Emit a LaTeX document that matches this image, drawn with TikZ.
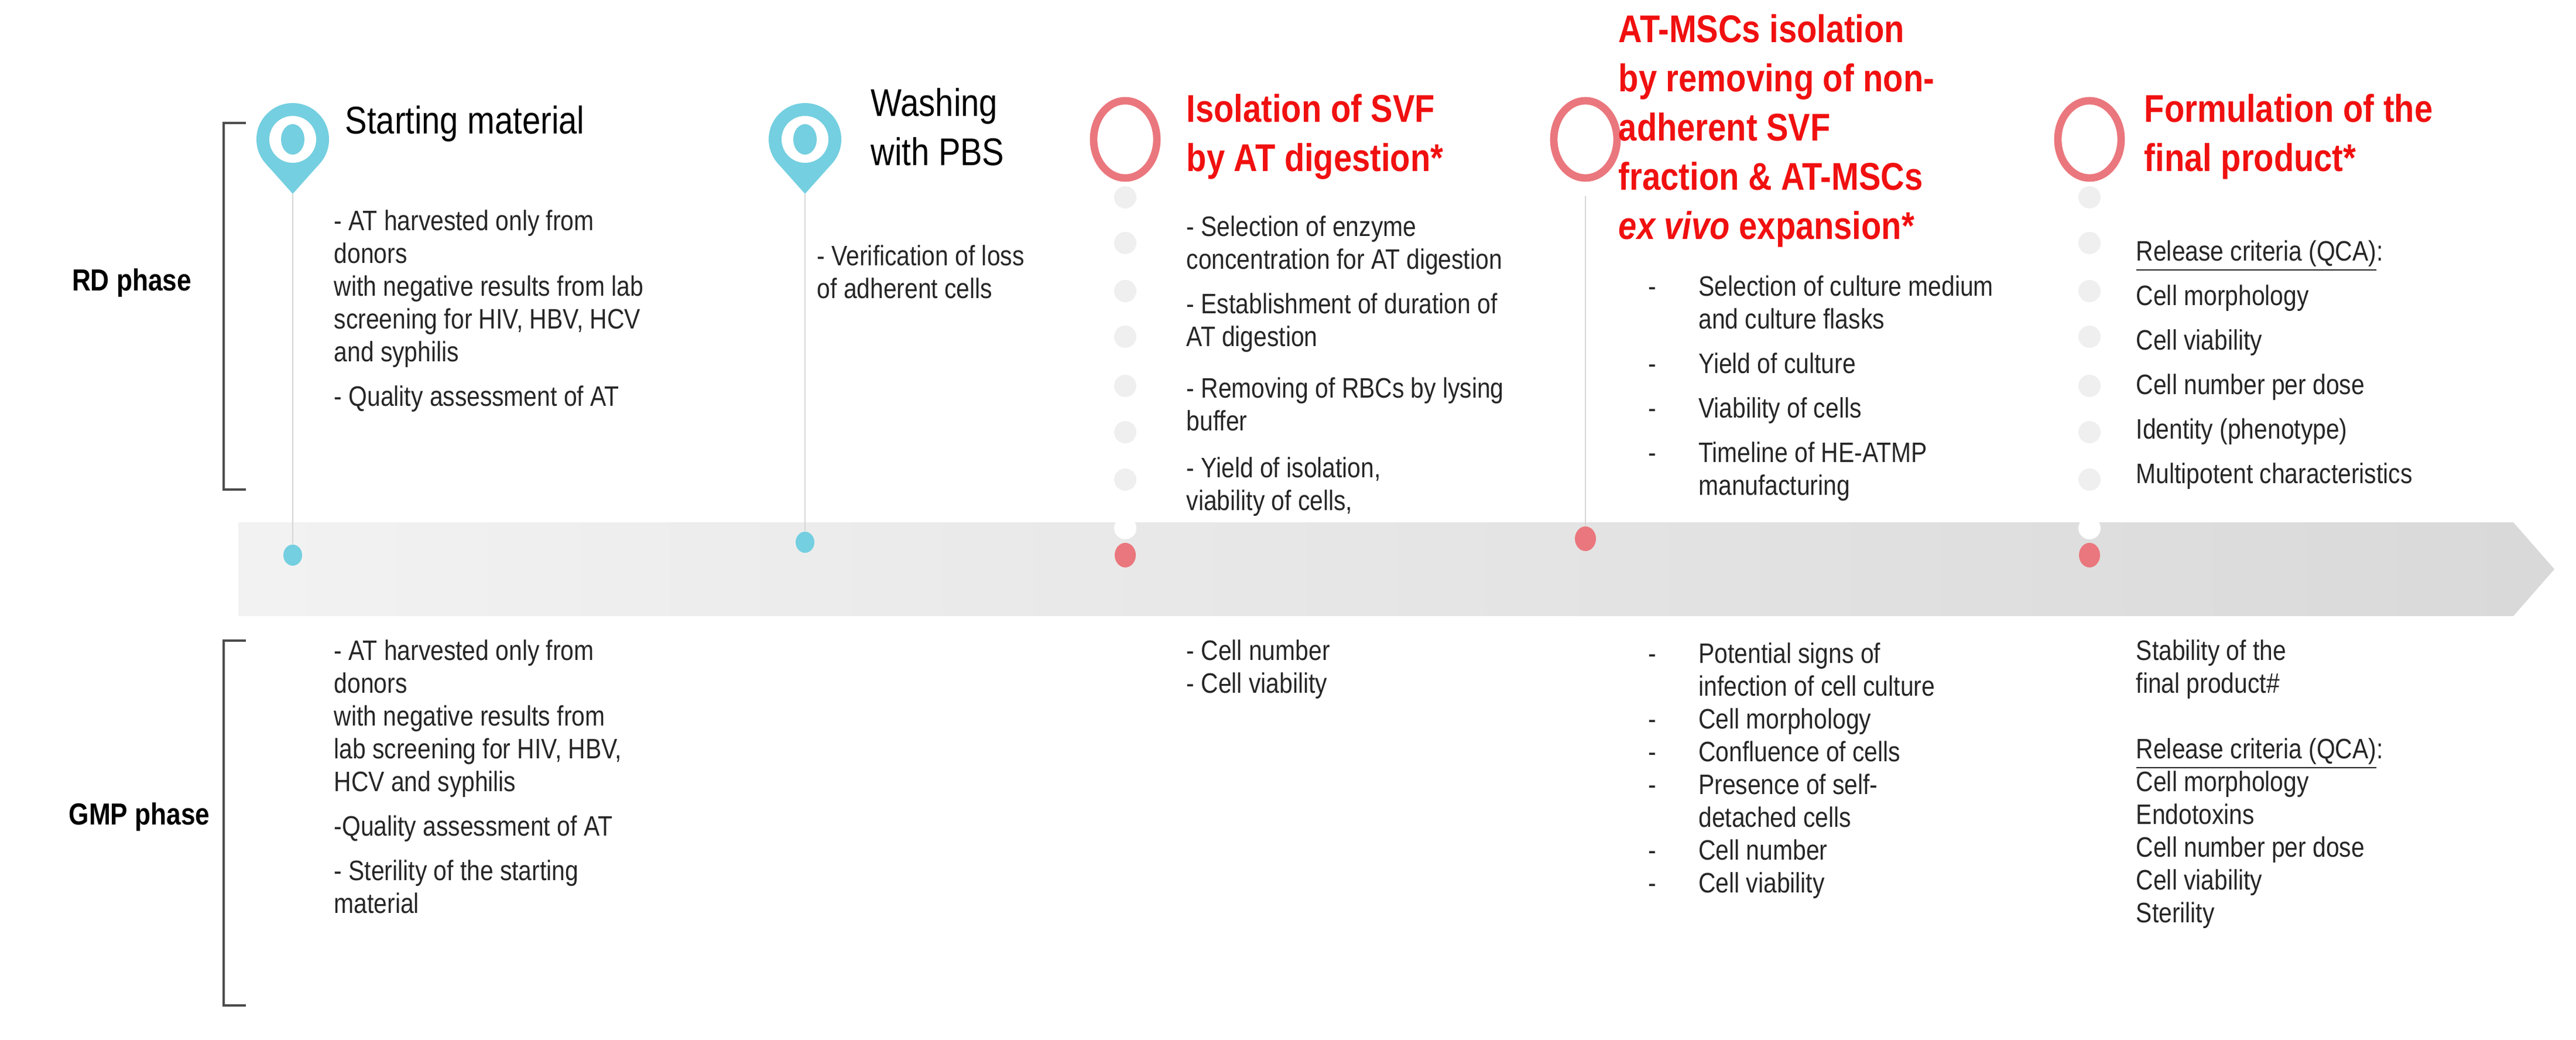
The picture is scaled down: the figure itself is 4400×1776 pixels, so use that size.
\documentclass[tikz,border=0pt]{standalone}
\usepackage{fontspec}
\setmainfont{Liberation Sans}[FakeStretch=0.85]
\usetikzlibrary{calc,shapes.geometric}
\definecolor{pincyan}{HTML}{74CFE0}
\definecolor{ringred}{HTML}{EA777D}
\definecolor{titlered}{HTML}{F01010}
\definecolor{dotgrey}{HTML}{EFEFEF}
\definecolor{linegrey}{HTML}{D6D6D6}
\tikzset{
  x=0.25pt,y=-0.25pt,
  body/.style={anchor=north west,inner sep=0pt,align=left,font=\fontsize{12}{14}\selectfont,text=black!85},
  ttl/.style={anchor=north west,inner sep=0pt,align=left,font=\fontsize{16.5}{21}\selectfont,text=black},
  rttl/.style={anchor=north west,inner sep=0pt,align=left,font=\fontsize{16.5}{21}\selectfont\bfseries,text=titlered},
  phase/.style={inner sep=0pt,font=\fontsize{13}{15}\selectfont\bfseries},
  stem/.style={draw=linegrey,line width=0.6pt},
  bracket/.style={draw=black!70,line width=0.9pt},
  gdot/.style={fill=dotgrey},
  cdot/.style={ellipse,fill=pincyan,inner sep=0pt,minimum width=8pt,minimum height=9pt},
  rdot/.style={ellipse,fill=ringred,inner sep=0pt,minimum width=9pt,minimum height=10.5pt},
}
\newcommand{\mypin}[2]{% x, name
  \fill[pincyan] (#1,331) -- (#1+46,279.5) -- (#1-46,279.5) -- cycle;
  \fill[pincyan] (#1,238) circle[radius=62];
  \fill[white] (#1,238) circle[radius=40];
  \fill[pincyan] (#1,238) ellipse[x radius=20,y radius=26];
  \coordinate (#2) at (#1,331);
}
\newcommand{\myring}[2]{%
  \draw[ringred,line width=3.2pt] (#1,238) ellipse[x radius=54,y radius=66];
  \coordinate (#2) at (#1,310);
}
\begin{document}
\begin{tikzpicture}
\useasboundingbox (0,0) rectangle (4400,1776);
% band
\shade[left color=black!5,right color=black!15] (407,892) -- (4293,892) -- (4363,972) -- (4293,1052) -- (407,1052) -- cycle;
% brackets
\draw[bracket] (420,210) -- (382,210) -- (382,836) -- (420,836);
\draw[bracket] (420,1094) -- (382,1094) -- (382,1717) -- (420,1717);
\node[phase] (rd) at (225,483) {RD phase};
\node[phase] (gmp) at (238,1395) {GMP phase};
% markers
\mypin{500}{p1}
\mypin{1375}{p2}
\myring{1922}{p3}
\myring{2708}{p4}
\myring{3569}{p5}
% grey dot columns
\foreach \yy in {337,415,497,575,659,738,819} {
  \fill[gdot] (1922,\yy) circle[radius=19];
  \fill[gdot] (3569,\yy) circle[radius=19];
}
\fill[white] (1922,902) circle[radius=19];
\fill[white] (3569,902) circle[radius=19];
% timeline dots
\node[cdot] (d1) at (500,948) {};
\node[cdot] (d2) at (1375,926) {};
\node[rdot] (d3) at (1922,948) {};
\node[rdot] (d4) at (2708,920) {};
\node[rdot] (d5) at (3569,948) {};
\draw[stem] (p1) -- (d1.north);
\draw[stem] (p2) -- (d2.north);
\draw[stem] (2708,335) -- (d4.north);
% titles
\node[ttl] (t1) at (589,180) {Starting material};
\node[ttl] (t2) at (1487,150) {Washing\\with PBS};
\node[rttl] (t3) at (2026,160) {Isolation of SVF\\by AT digestion*};
\node[rttl] (t4) at (2764,24) {AT-MSCs isolation\\by removing of non-\\adherent SVF\\fraction \& AT-MSCs\\\textit{ex vivo} expansion*};
\node[rttl] (t5) at (3662,160) {Formulation of the\\final product*};
% RD texts
\node[body] (r1) at (570,358) {- AT harvested only from\\donors\\with negative results from lab\\screening for HIV, HBV, HCV\\and syphilis\\[5pt]- Quality assessment of AT};
\node[body] (r2) at (1395,418) {- Verification of loss\\of adherent cells};
\node[body] (r3) at (2026,368) {- Selection of enzyme\\concentration for AT digestion\\[5pt]- Establishment of duration of\\AT digestion\\[8pt]- Removing of RBCs by lysing\\buffer\\[6pt]- Yield of isolation,\\viability of cells,};
\node[body] (r4) at (2815,465) {\begin{tabular}{@{}l@{\hspace{18pt}}l@{}}
-&Selection of culture medium\\ &and culture flasks\\[5pt]
-&Yield of culture\\[5pt]
-&Viability of cells\\[5pt]
-&Timeline of HE-ATMP\\ &manufacturing\end{tabular}};
\node[body] (r5) at (3648,410) {\underline{Release criteria (QCA)}:\\[5pt]Cell morphology\\[5pt]Cell viability\\[5pt]Cell number per dose\\[5pt]Identity (phenotype)\\[5pt]Multipotent characteristics};
% GMP texts
\node[body] (g1) at (570,1092) {- AT harvested only from\\donors\\with negative results from\\lab screening for HIV, HBV,\\HCV and syphilis\\[5pt]-Quality assessment of AT\\[5pt]- Sterility of the starting\\material};
\node[body] (g3) at (2026,1092) {- Cell number\\- Cell viability};
\node[body] (g4) at (2815,1092) {\begin{tabular}{@{}l@{\hspace{18pt}}l@{}}
-&Potential signs of\\ &infection of cell culture\\
-&Cell morphology\\
-&Confluence of cells\\
-&Presence of self-\\ &detached cells\\
-&Cell number\\
-&Cell viability\end{tabular}};
\node[body] (g5) at (3648,1092) {Stability of the\\final product\#\\[14pt]\underline{Release criteria (QCA)}:\\Cell morphology\\Endotoxins\\Cell number per dose\\Cell viability\\Sterility};
\end{tikzpicture}
\end{document}
